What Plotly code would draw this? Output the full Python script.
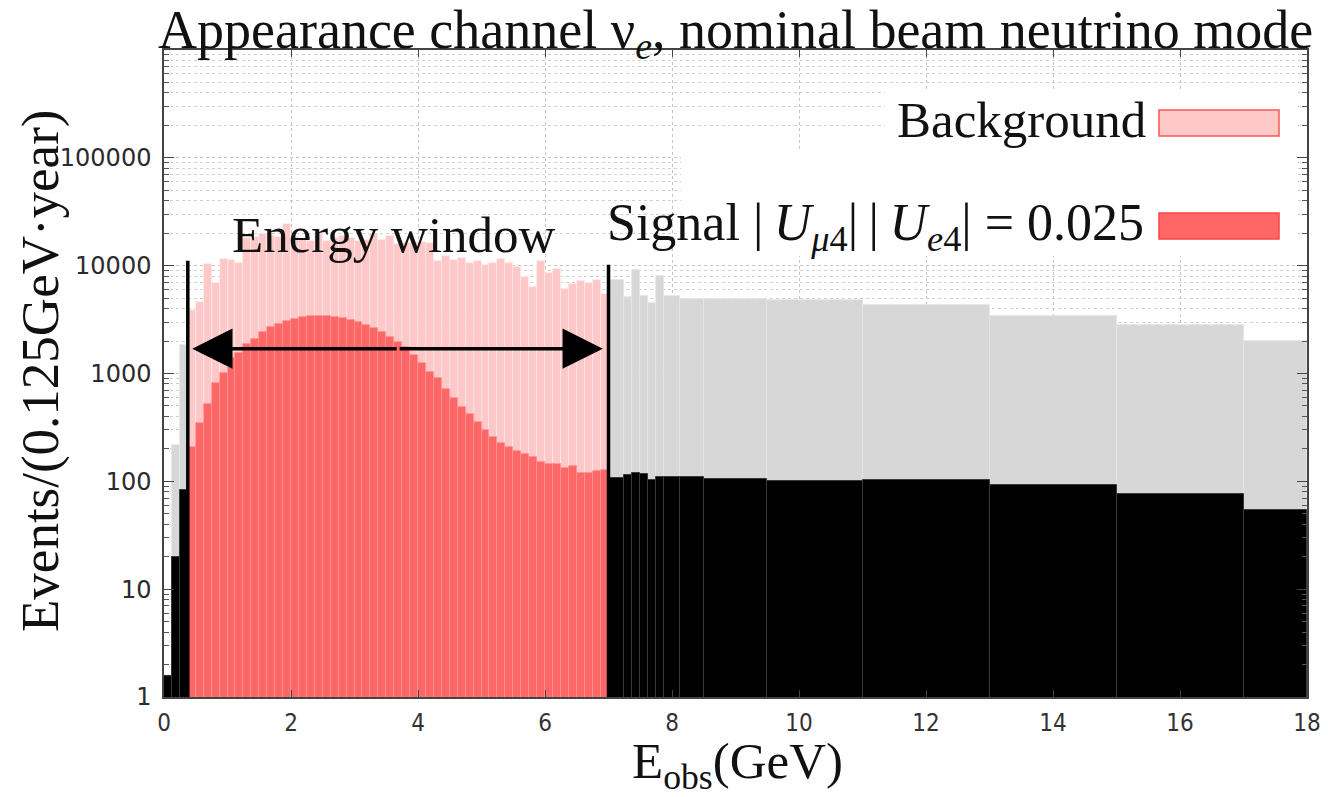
import math
import plotly.graph_objects as go

# ---------------- data ----------------
# bins below the energy window (0 - 0.375 GeV)
left_edges = [0.0, 0.125, 0.25, 0.375]
left_bg = [1.6, 219, 1820]
left_sig = [1.55, 19.9, 82.6]

# energy window bins (0.125 GeV wide, 0.375 - 7.0 GeV)
win_edges = [0.375 + 0.125 * i for i in range(54)]
win_bg = [3900, 4600, 10300, 6900, 11500, 11300, 10700, 18100, 18600, 19700,
          19000, 18600, 24600, 18600, 17700, 17000, 19700, 17000, 18100, 19000,
          18100, 17000, 17300, 19700, 17300, 19000, 15800, 16400, 16200, 16500,
          16400, 10960, 12400, 11300, 11800, 10500, 10960, 10200, 10700, 11500,
          10700, 9800, 7900, 6300, 11100, 8500, 9330, 6100, 6800, 7160,
          6900, 7400, 5500]
win_sig = [210, 345, 525, 810, 1020, 1380, 1560, 1860, 2100, 2450,
           2680, 2890, 3080, 3220, 3330, 3380, 3390, 3380, 3330, 3280,
           3160, 2990, 2830, 2650, 2450, 2200, 1950, 1750, 1470, 1240,
           1040, 900, 725, 590, 490, 425, 355, 302, 257, 226,
           208, 191, 180, 167, 150, 145, 145, 134, 138, 119,
           119, 126, 128]

# bins above the energy window (7 - 18 GeV)
right_edges = [7.0, 7.25, 7.375, 7.5, 7.625, 7.75, 7.875, 8.125, 8.5, 9.5, 11, 13, 15, 17, 18]
right_bg = [7400, 5160, 9100, 5270, 4520, 8070, 5270, 4900, 4900, 4790, 4360, 3390, 2830, 2000]
right_sig = [108, 114, 119, 116, 102, 110, 110, 110, 106, 100, 104, 93, 77, 54]

window_lo, window_hi = 0.375, 7.0
window_line_tops = [11100, 10200]
arrow_level = 1700

y_tick_vals = [1, 10, 100, 1000, 10000, 100000]
y_tick_text = ["1", "10", "100", "1000", "10000", "100000"]
x_tick_vals = [0, 2, 4, 6, 8, 10, 12, 14, 16, 18]

title_text = "Appearance channel \u03bd<sub><i>e</i></sub>, nominal beam neutrino mode"
ytitle_text = "Events/(0.125GeV\u00b7year)"
xtitle_text = "E<sub>obs</sub>(GeV)"
bg_label = "Background"
sig_label = ("Signal |\u2009<i>U</i><sub><i>\u03bc</i>4</sub>|\u2009|\u2009<i>U</i><sub><i>e</i>4</sub>|"
             " = 0.025")
window_label = "Energy window"


def centers_widths(edges):
    c = [(a + b) / 2 for a, b in zip(edges[:-1], edges[1:])]
    w = [b - a for a, b in zip(edges[:-1], edges[1:])]
    return c, w


lc, lw = centers_widths(left_edges)
wc, ww = centers_widths(win_edges)
rc, rw = centers_widths(right_edges)

GRAY = "#d7d7d7"
PINK = "#ffc8c8"
RED = "#ff6666"
SERIF = "Liberation Serif, Times New Roman, serif"

fig = go.Figure()
fig.add_trace(go.Bar(x=lc + rc, y=left_bg + right_bg, width=lw + rw,
                     marker=dict(color=GRAY, line=dict(color="#e6e6e6", width=0.8))))
fig.add_trace(go.Bar(x=wc, y=win_bg, width=ww,
                     marker=dict(color=PINK, line=dict(color="rgba(255,235,235,0.9)", width=0.8))))
fig.add_trace(go.Bar(x=lc + rc, y=left_sig + right_sig, width=lw + rw,
                     marker=dict(color="black", line=dict(color="#3a3a3a", width=1))))
fig.add_trace(go.Bar(x=wc, y=win_sig, width=ww,
                     marker=dict(color=RED, line=dict(color="rgba(255,150,150,0.9)", width=0.8))))

for xv, top in zip([window_lo, window_hi], window_line_tops):
    fig.add_trace(go.Scatter(x=[xv, xv], y=[1, top], mode="lines",
                             line=dict(color="black", width=3.5), hoverinfo="skip"))

mid = (window_lo + window_hi) / 2
ay = math.log10(arrow_level)
annotations = []
for tip in [window_lo + 0.07, window_hi - 0.09]:
    annotations.append(dict(x=tip, y=ay, ax=mid, ay=ay, xref="x", yref="y",
                            axref="x", ayref="y", text="", showarrow=True,
                            arrowhead=2, arrowsize=2.3, arrowwidth=3.5,
                            arrowcolor="black", standoff=0))

W, H = 1328, 797
L, R, T, B = 164, 21, 50, 100
pw, ph = W - L - R, H - T - B


def px(x):
    return (x - L) / pw


def py(y):
    return (H - B - y) / ph


annotations += [
    dict(text=title_text, x=0.5, y=py(33), xref="paper", yref="paper", showarrow=False,
         xanchor="center", yanchor="middle", font=dict(family=SERIF, size=54, color="#111")),
    dict(text=ytitle_text, x=px(40), y=py(371), xref="paper", yref="paper", showarrow=False,
         textangle=-90, xanchor="center", yanchor="middle",
         font=dict(family=SERIF, size=53, color="#111")),
    dict(text=xtitle_text, x=px(738), y=py(765), xref="paper", yref="paper", showarrow=False,
         xanchor="center", yanchor="middle", font=dict(family=SERIF, size=51, color="#111")),
    dict(text=window_label, x=3.62, y=4.28, xref="x", yref="y", showarrow=False,
         xanchor="center", yanchor="middle", font=dict(family=SERIF, size=51, color="#111")),
    dict(text=bg_label, x=px(1148), y=py(120), xref="paper", yref="paper", showarrow=False,
         xanchor="right", yanchor="middle", font=dict(family=SERIF, size=51, color="#111")),
    dict(text=sig_label, x=px(1146), y=py(227), xref="paper", yref="paper", showarrow=False,
         xanchor="right", yanchor="middle", font=dict(family=SERIF, size=52, color="#111")),
]

shapes = [
    dict(type="rect", xref="paper", yref="paper", x0=px(885), x1=px(1297), y0=py(150), y1=py(92),
         fillcolor="white", line=dict(width=0), layer="above"),
    dict(type="rect", xref="paper", yref="paper", x0=px(681), x1=px(1297), y0=py(256), y1=py(150),
         fillcolor="white", line=dict(width=0), layer="above"),
    dict(type="rect", xref="paper", yref="paper", x0=px(1159), x1=px(1279), y0=py(136), y1=py(110),
         fillcolor=PINK, line=dict(color="#ff5555", width=1.5), layer="above"),
    dict(type="rect", xref="paper", yref="paper", x0=px(1159), x1=px(1279), y0=py(239), y1=py(213),
         fillcolor=RED, line=dict(color="#ff4444", width=1.5), layer="above"),
]

fig.update_layout(
    width=W, height=H, margin=dict(l=L, r=R, t=T, b=B, pad=0),
    paper_bgcolor="white", plot_bgcolor="white", showlegend=False,
    barmode="overlay", bargap=0,
    annotations=annotations, shapes=shapes,
    xaxis=dict(range=[0, 18], tickmode="array", tickvals=x_tick_vals,
               ticks="inside", ticklen=7, tickwidth=1.2, tickcolor="#444",
               showline=True, linecolor="#444", linewidth=1.5, mirror="ticks",
               showgrid=True, gridcolor="#c4c4c4", griddash="dot", gridwidth=1,
               zeroline=False, ticklabelstandoff=3, automargin=False,
               tickfont=dict(family="DejaVu Sans Condensed, DejaVu Sans", size=24, color="#333")),
    yaxis=dict(type="log", range=[0, 6], tickmode="array", tickvals=y_tick_vals,
               ticktext=y_tick_text, ticks="inside", ticklen=10, tickwidth=1.2, tickcolor="#444",
               showline=True, linecolor="#444", linewidth=1.5, mirror="ticks",
               showgrid=True, gridcolor="#c4c4c4", griddash="dot", gridwidth=1,
               zeroline=False, ticklabelstandoff=6, automargin=False,
               minor=dict(tickmode="linear", dtick="D1", ticks="inside", ticklen=5,
                          tickcolor="#555", showgrid=True, gridcolor="#d0d0d0",
                          griddash="dot", gridwidth=1),
               tickfont=dict(family="DejaVu Sans", size=24, color="#2b2b2b")),
)

fig.write_html("out.html")
